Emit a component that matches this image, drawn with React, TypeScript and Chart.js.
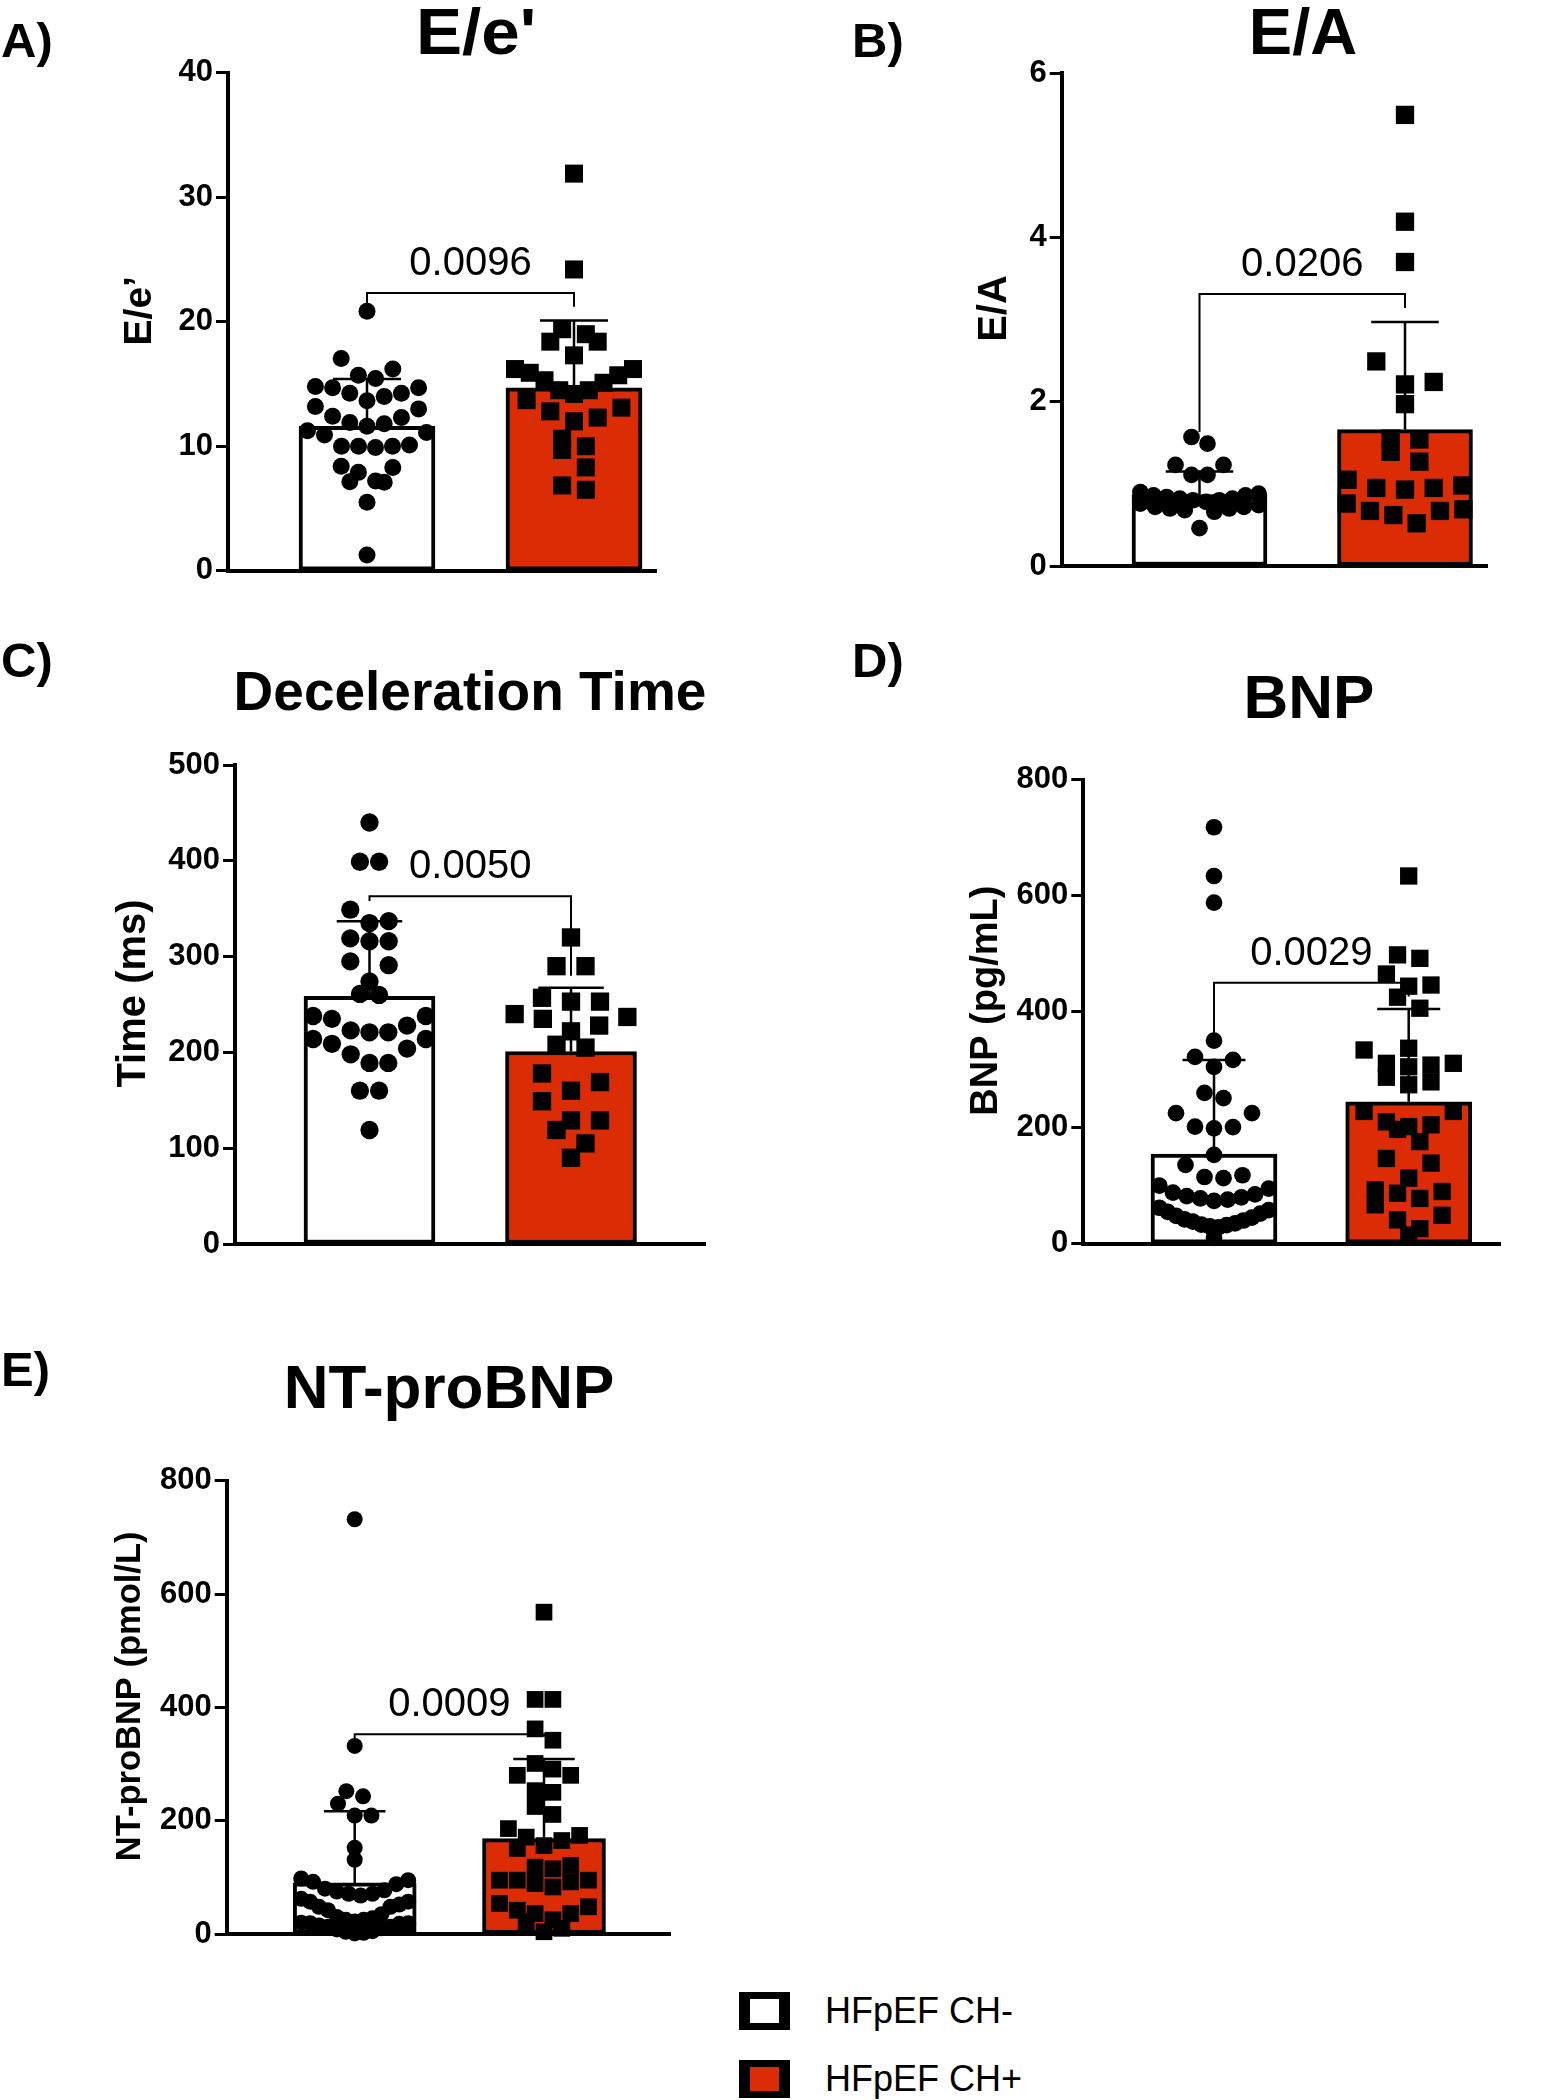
import React, { useEffect, useRef } from "react";
import { Chart, registerables } from "chart.js";

Chart.register(...registerables);

const FONT = "'Liberation Sans', Arial, Helvetica, sans-serif";
const RED = "#dc2c06";

// ---------- data ----------
const groups = ["HFpEF CH-", "HFpEF CH+"];

// A) E/e'
const eeNeg = [20.85, 17.05, 16.2, 15.7, 15.45, 14.8, 14.7, 14.7, 14.25, 14.25, 14.0, 13.65, 13.2, 13.0, 12.4, 12.3, 11.9, 11.8, 11.6, 11.25, 11.1, 10.9, 10.1, 10.0, 10.0, 10.0, 9.9, 8.4, 8.3, 7.9, 7.2, 7.15, 7.1, 5.5, 1.26];
const eePos = [31.9, 24.2, 19.4, 19.0, 18.4, 18.4, 17.3, 16.2, 16.2, 15.9, 15.7, 15.3, 15.1, 14.5, 14.5, 14.2, 13.7, 13.1, 12.8, 12.3, 12.0, 10.6, 10.0, 9.7, 8.3, 6.85, 6.5];
const eeMean = [11.6, 14.7];
const eeSD = [3.8, 5.4];
const eeBracket = [21.2, 22.3, 21.2];
const eeP = "0.0096";
const eeTicks = [0, 10, 20, 30, 40];

// B) E/A
const eaNeg = [1.57, 1.49, 1.23, 1.23, 1.11, 1.11, 0.9, 0.88, 0.86, 0.86, 0.84, 0.82, 0.82, 0.8, 0.8, 0.78, 0.76, 0.74, 0.72, 0.72, 0.7, 0.7, 0.68, 0.66, 0.46];
const eaPos = [5.49, 4.19, 3.7, 2.49, 2.24, 2.21, 1.97, 1.55, 1.54, 1.39, 1.27, 1.05, 0.98, 0.95, 0.95, 0.93, 0.76, 0.69, 0.67, 0.67, 0.62, 0.52];
const eaMean = [0.87, 1.66];
const eaSD = [0.28, 1.31];
const eaBracket = [1.63, 3.31, 3.14];
const eaP = "0.0206";
const eaTicks = [0, 2, 4, 6];

// C) Deceleration time
const dtNeg = [440, 399, 399, 349, 337, 335, 319, 316, 316, 295, 291, 274, 261, 260, 238, 238, 235, 228, 223, 221, 221, 214, 214, 209, 204, 198, 189, 189, 160, 160, 119];
const dtPos = [320, 290, 290, 257, 253, 253, 240, 237, 235, 228, 222, 208, 205, 178, 169, 160, 149, 129, 129, 119, 105, 90];
const dtMean = [258.5, 200.9];
const dtSD = [78.4, 66.6];
const dtBracket = [358, 363, 280];
const dtP = "0.0050";
const dtTicks = [0, 100, 200, 300, 400, 500];

// D) BNP
const bnpNeg = [718, 634, 588, 350, 322, 317, 305, 260, 251, 225, 225, 202, 201, 199, 153, 136, 118, 115, 113, 100, 95, 88, 85, 82, 80, 78, 76, 74, 62, 58, 55, 52, 48, 45, 42, 40, 38, 35, 33, 32, 30, 28, 10];
const bnpPos = [634, 498, 492, 465, 446, 444, 425, 406, 337, 334, 311, 311, 308, 305, 287, 279, 274, 228, 228, 210, 205, 202, 197, 176, 147, 139, 113, 93, 90, 87, 78, 67, 49, 41, 26, 15];
const bnpMean = [154.6, 244.8];
const bnpSD = [162.1, 159.8];
const bnpBracket = [340, 450, 426];
const bnpP = "0.0029";
const bnpTicks = [0, 200, 400, 600, 800];

// E) NT-proBNP
const ntNeg = [732, 332, 252, 243, 230, 209, 209, 152, 131, 98, 95, 92, 88, 80, 77, 75, 71, 71, 68, 62, 57, 57, 52, 48, 48, 42, 35, 30, 28, 25, 25, 22, 20, 19, 19, 18, 15, 13, 13, 10, 8, 5, 4, 2, 1];
const ntPos = [568, 414, 414, 362, 342, 301, 291, 280, 280, 253, 250, 225, 211, 186, 174, 171, 165, 156, 151, 121, 118, 115, 95, 95, 95, 92, 89, 83, 54, 48, 42, 36, 36, 25, 22, 10, 4];
const ntMean = [90.2, 168.2];
const ntSD = [126.6, 140.6];
const ntBracket = [344, 352.7, 348];
const ntP = "0.0009";
const ntTicks = [0, 200, 400, 600, 800];

// ---------- layout (page pixels) ----------
type Panel = {
  letter: string; title: string; ylab: string; pval: string;
  neg: number[]; pos: number[]; mean: number[]; sd: number[]; bracket: number[]; ticks: number[];
  canvas: { left: number; top: number; w: number; h: number };
  area: { left: number; top: number; right: number; bottom: number };
  centers: number[]; barPx: number;
  negD: number; posS: number; negSp: number; posSp: number;
  titleX: number; titleY: number; titleSize: number; titleSx: number;
  letterX: number; letterY: number;
  ylabX: number; ylabSize: number; tickSize: number;
};

const panels: Panel[] = [
  {
    letter: "A)", title: "E/e'", ylab: "E/e\u2019", pval: eeP,
    neg: eeNeg, pos: eePos, mean: eeMean, sd: eeSD, bracket: eeBracket, ticks: eeTicks,
    canvas: { left: 0, top: 0, w: 700, h: 610 },
    area: { left: 228, top: 72.8, right: 656, bottom: 570.7 },
    centers: [367, 574], barPx: 136,
    negD: 17, posS: 18, negSp: 17.2, posSp: 23.7,
    titleX: 476, titleY: 54, titleSize: 64, titleSx: 1.08, letterX: 1, letterY: 57,
    ylabX: 140, ylabSize: 39, tickSize: 31,
  },
  {
    letter: "B)", title: "E/A", ylab: "E/A", pval: eaP,
    neg: eaNeg, pos: eaPos, mean: eaMean, sd: eaSD, bracket: eaBracket, ticks: eaTicks,
    canvas: { left: 840, top: 0, w: 700, h: 610 },
    area: { left: 1061.7, top: 73, right: 1487, bottom: 566 },
    centers: [1199.5, 1405], barPx: 135,
    negD: 16.7, posS: 18.3, negSp: 16, posSp: 28.7,
    titleX: 1303, titleY: 54, titleSize: 65, titleSx: 1.0, letterX: 852, letterY: 57,
    ylabX: 995, ylabSize: 40, tickSize: 31,
  },
  {
    letter: "C)", title: "Deceleration Time", ylab: "Time (ms)", pval: dtP,
    neg: dtNeg, pos: dtPos, mean: dtMean, sd: dtSD, bracket: dtBracket, ticks: dtTicks,
    canvas: { left: 0, top: 620, w: 760, h: 660 },
    area: { left: 235, top: 765, right: 705, bottom: 1244 },
    centers: [369.5, 571], barPx: 131,
    negD: 18.3, posS: 18.3, negSp: 19.2, posSp: 29,
    titleX: 470, titleY: 710, titleSize: 55, titleSx: 1.0, letterX: 1, letterY: 677,
    ylabX: 134, ylabSize: 40, tickSize: 31,
  },
  {
    letter: "D)", title: "BNP", ylab: "BNP (pg/mL)", pval: bnpP,
    neg: bnpNeg, pos: bnpPos, mean: bnpMean, sd: bnpSD, bracket: bnpBracket, ticks: bnpTicks,
    canvas: { left: 840, top: 620, w: 700, h: 660 },
    area: { left: 1083.3, top: 779.7, right: 1500, bottom: 1243.7 },
    centers: [1214, 1408.7], barPx: 126,
    negD: 16.7, posS: 17.3, negSp: 19, posSp: 22.3,
    titleX: 1309, titleY: 718, titleSize: 62, titleSx: 1.0, letterX: 852, letterY: 677,
    ylabX: 987, ylabSize: 38, tickSize: 31,
  },
  {
    letter: "E)", title: "NT-proBNP", ylab: "NT-proBNP (pmol/L)", pval: ntP,
    neg: ntNeg, pos: ntPos, mean: ntMean, sd: ntSD, bracket: ntBracket, ticks: ntTicks,
    canvas: { left: 0, top: 1330, w: 720, h: 640 },
    area: { left: 226.7, top: 1480.7, right: 670, bottom: 1934 },
    centers: [354.7, 544], barPx: 123,
    negD: 16, posS: 16.7, negSp: 16.7, posSp: 17.8,
    titleX: 449, titleY: 1408, titleSize: 62, titleSx: 1.0, letterX: 1, letterY: 1386,
    ylabX: 130, ylabSize: 34.5, tickSize: 31,
  },
];

// GraphPad-like row arrangement: values binned in rows, lowest of each row in
// the middle and the rest alternating outwards.
function swarm(values: number[], center: number, pxPerX: number, pxPerY: number, rowPx: number, spacePx: number, maxSpanPx: number) {
  const rows = new Map<number, number[]>();
  values.forEach((v) => {
    const r = Math.round((v * pxPerY) / rowPx);
    if (!rows.has(r)) rows.set(r, []);
    rows.get(r)!.push(v);
  });
  const pts: { x: number; y: number }[] = [];
  rows.forEach((list) => {
    const n = list.length;
    const sp = n > 1 ? Math.min(spacePx, maxSpanPx / (n - 1)) : 0;
    const slots: number[] = [];
    for (let i = 0; i < n; i++) slots.push((i - (n - 1) / 2) * sp);
    slots.sort((a, b) => Math.abs(a) - Math.abs(b) || b - a);
    const sorted = [...list].sort((a, b) => a - b);
    sorted.forEach((v, i) => pts.push({ x: center + slots[i] / pxPerX, y: v }));
  });
  return pts;
}

function PanelChart({ p }: { p: Panel }) {
  const ref = useRef<HTMLCanvasElement>(null);
  useEffect(() => {
    const canvas = ref.current!;
    const W = p.canvas.w;
    const H = p.canvas.h;
    const aL = p.area.left - p.canvas.left;
    const aR = p.area.right - p.canvas.left;
    const aT = p.area.top - p.canvas.top;
    const aB = p.area.bottom - p.canvas.top;
    const yMax = p.ticks[p.ticks.length - 1];
    const yStep = p.ticks[1] - p.ticks[0];
    const unit = p.centers[1] - p.centers[0];
    const xMin = -(p.centers[0] - p.area.left) / unit;
    const xMax = (p.area.right - p.centers[0]) / unit;
    const pxPerY = (p.area.bottom - p.area.top) / yMax;
    const cap = p.barPx / 4 / unit;

    const errPts: any[] = [];
    [0, 1].forEach((g) => {
      const top = p.mean[g] + p.sd[g];
      errPts.push({ x: g, y: p.mean[g] }, { x: g, y: top }, { x: g, y: null });
      errPts.push({ x: g - cap, y: top }, { x: g + cap, y: top }, { x: g + cap, y: null });
    });

    const negPts = swarm(p.neg, 0, unit, pxPerY, p.negD * 1.5, p.negSp, p.barPx - p.negD);
    const posPts = swarm(p.pos, 1, unit, pxPerY, p.posS * 1.5, p.posSp, p.barPx - p.posS);

    const textPlugin = {
      id: "panelText",
      afterDraw(chart: any) {
        const ctx = chart.ctx as CanvasRenderingContext2D;
        const ca = chart.chartArea;
        ctx.save();
        ctx.fillStyle = "#000";
        ctx.textBaseline = "alphabetic";
        ctx.textAlign = "left";
        ctx.font = `bold 49px ${FONT}`;
        ctx.fillText(p.letter, p.letterX - p.canvas.left, p.letterY - p.canvas.top);
        // title
        ctx.save();
        ctx.translate(p.titleX - p.canvas.left, p.titleY - p.canvas.top);
        ctx.scale(p.titleSx, 1);
        ctx.textAlign = "center";
        ctx.font = `bold ${p.titleSize}px ${FONT}`;
        ctx.fillText(p.title, 0, 0);
        ctx.restore();
        // y axis title
        ctx.save();
        ctx.translate(p.ylabX - p.canvas.left, (ca.top + ca.bottom) / 2 - 11);
        ctx.rotate(-Math.PI / 2);
        ctx.textAlign = "center";
        ctx.textBaseline = "middle";
        ctx.font = `bold ${p.ylabSize}px ${FONT}`;
        ctx.fillText(p.ylab, 0, 0);
        ctx.restore();
        // p value
        const xs = chart.scales.x;
        const ys = chart.scales.y;
        ctx.textAlign = "center";
        ctx.font = `40px ${FONT}`;
        ctx.fillText(p.pval, xs.getPixelForValue(0.5), ys.getPixelForValue(p.bracket[1]) - 18);
        ctx.restore();
      },
    };

    const chart = new Chart(canvas, {
      type: "bar",
      data: {
        datasets: [
          {
            type: "scatter",
            label: groups[0],
            data: negPts,
            pointStyle: "circle",
            pointRadius: p.negD / 2,
            backgroundColor: "#000",
            borderWidth: 0,
            order: 1,
            clip: false,
          } as any,
          {
            type: "scatter",
            label: groups[1],
            data: posPts,
            pointStyle: "rect",
            pointRadius: p.posS / Math.SQRT2,
            backgroundColor: "#000",
            borderWidth: 0,
            order: 1,
            clip: false,
          } as any,
          {
            type: "line",
            label: "bracket",
            data: [
              { x: 0, y: p.bracket[0] },
              { x: 0, y: p.bracket[1] },
              { x: 1, y: p.bracket[1] },
              { x: 1, y: p.bracket[2] },
            ],
            borderColor: "#000",
            borderWidth: 2,
            pointRadius: 0,
            fill: false,
            tension: 0,
            order: 3,
            clip: false,
          } as any,
          {
            type: "line",
            label: "SD",
            data: errPts,
            borderColor: "#000",
            borderWidth: 2.5,
            pointRadius: 0,
            spanGaps: false,
            fill: false,
            tension: 0,
            order: 2,
            clip: false,
          } as any,
          {
            type: "bar",
            label: "mean",
            data: [
              { x: 0, y: p.mean[0] },
              { x: 1, y: p.mean[1] },
            ],
            backgroundColor: ["#ffffff", RED],
            borderColor: "#000",
            borderWidth: 4,
            borderSkipped: false,
            barThickness: p.barPx,
            order: 5,
          } as any,
        ],
      },
      options: {
        responsive: false,
        animation: false,
        devicePixelRatio: 1,
        events: [],
        layout: { padding: { left: 0, top: aT, right: W - aR, bottom: H - aB } },
        plugins: {
          legend: { display: false },
          tooltip: { enabled: false },
          title: { display: false },
        },
        scales: {
          x: {
            type: "linear",
            min: xMin,
            max: xMax,
            offset: false,
            ticks: { display: false },
            grid: { display: false },
            border: { display: true, color: "#000", width: 4 },
            afterFit: (s: any) => {
              s.height = 0;
            },
          },
          y: {
            type: "linear",
            min: 0,
            max: yMax,
            ticks: {
              stepSize: yStep,
              color: "#000",
              padding: 3,
              font: { family: FONT, size: p.tickSize, weight: "bold" },
            },
            grid: {
              display: true,
              drawOnChartArea: false,
              drawTicks: true,
              tickLength: 12,
              tickWidth: 3,
              tickColor: "#000",
            },
            border: { display: true, color: "#000", width: 4 },
            title: { display: false },
            afterFit: (s: any) => {
              s.width = aL;
            },
          },
        } as any,
      },
      plugins: [textPlugin],
    } as any);
    return () => chart.destroy();
  }, [p]);
  return (
    <canvas
      ref={ref}
      width={p.canvas.w}
      height={p.canvas.h}
      style={{ position: "absolute", left: p.canvas.left, top: p.canvas.top, width: p.canvas.w, height: p.canvas.h }}
    />
  );
}

function LegendItem({ top, color, label }: { top: number; color: string; label: string }) {
  return (
    <>
      <div
        style={{
          position: "absolute",
          left: 739,
          top: top,
          width: 51,
          height: 38,
          boxSizing: "border-box",
          borderStyle: "solid",
          borderColor: "#000",
          borderWidth: "7px 11px",
          background: color,
        }}
      />
      <div
        style={{
          position: "absolute",
          left: 825,
          top: top + 1,
          fontFamily: FONT,
          fontSize: 36,
          lineHeight: "36px",
          color: "#000",
          whiteSpace: "nowrap",
        }}
      >
        {label}
      </div>
    </>
  );
}

export default function App() {
  return (
    <div style={{ position: "absolute", left: 0, top: 0, width: 1542, height: 2100, background: "#fff", overflow: "hidden" }}>
      {panels.map((p) => (
        <PanelChart key={p.letter} p={p} />
      ))}
      <LegendItem top={1992} color="#ffffff" label={groups[0]} />
      <LegendItem top={2060} color={RED} label={groups[1]} />
    </div>
  );
}
